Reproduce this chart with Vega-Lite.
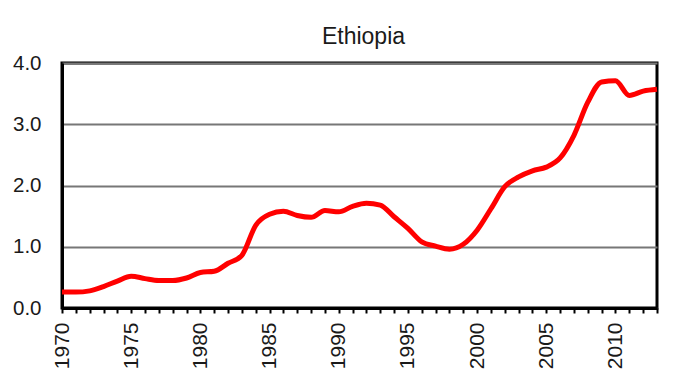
{
  "$schema": "https://vega.github.io/schema/vega-lite/v6.json",
  "autosize": {"type": "none"},
  "width": 595,
  "height": 245,
  "padding": {"left": 62, "top": 63, "right": 27, "bottom": 77},
  "background": "white",
  "title": {"text": "Ethiopia", "font": "Liberation Sans", "fontSize": 23, "fontWeight": "normal", "color": "#1a1a1a", "offset": 4, "anchor": "middle", "dx": 4},
  "config": {
    "view": {"stroke": "#000", "strokeWidth": 3},
    "axis": {"labelFont": "Liberation Sans", "labelColor": "#1a1a1a"}
  },
  "data": {"values": [
    {"year": 1970, "value": 0.26}, {"year": 1971, "value": 0.26}, {"year": 1972, "value": 0.28},
    {"year": 1973, "value": 0.35}, {"year": 1974, "value": 0.44}, {"year": 1975, "value": 0.52},
    {"year": 1976, "value": 0.48}, {"year": 1977, "value": 0.45}, {"year": 1978, "value": 0.45},
    {"year": 1979, "value": 0.49}, {"year": 1980, "value": 0.58}, {"year": 1981, "value": 0.6},
    {"year": 1982, "value": 0.73}, {"year": 1983, "value": 0.86}, {"year": 1984, "value": 1.35},
    {"year": 1985, "value": 1.53}, {"year": 1986, "value": 1.58}, {"year": 1987, "value": 1.51},
    {"year": 1988, "value": 1.48}, {"year": 1989, "value": 1.59}, {"year": 1990, "value": 1.57},
    {"year": 1991, "value": 1.66}, {"year": 1992, "value": 1.71}, {"year": 1993, "value": 1.68},
    {"year": 1994, "value": 1.49}, {"year": 1995, "value": 1.3}, {"year": 1996, "value": 1.08},
    {"year": 1997, "value": 1.01}, {"year": 1998, "value": 0.96}, {"year": 1999, "value": 1.04},
    {"year": 2000, "value": 1.27}, {"year": 2001, "value": 1.62}, {"year": 2002, "value": 1.98},
    {"year": 2003, "value": 2.14}, {"year": 2004, "value": 2.24}, {"year": 2005, "value": 2.3},
    {"year": 2006, "value": 2.45}, {"year": 2007, "value": 2.82}, {"year": 2008, "value": 3.36},
    {"year": 2009, "value": 3.69}, {"year": 2010, "value": 3.71}, {"year": 2011, "value": 3.47},
    {"year": 2012, "value": 3.54}, {"year": 2013, "value": 3.57}
  ]},
  "mark": {"type": "line", "color": "#ff0000", "strokeWidth": 5, "interpolate": "monotone", "clip": false},
  "encoding": {
    "x": {
      "field": "year", "type": "quantitative",
      "scale": {"domain": [1970, 2013], "nice": false, "zero": false},
      "axis": {
        "title": null,
        "values": [1970,1971,1972,1973,1974,1975,1976,1977,1978,1979,1980,1981,1982,1983,1984,1985,1986,1987,1988,1989,1990,1991,1992,1993,1994,1995,1996,1997,1998,1999,2000,2001,2002,2003,2004,2005,2006,2007,2008,2009,2010,2011,2012,2013],
        "format": "d",
        "labelExpr": "datum.value % 5 == 0 ? datum.label : ''",
        "labelOverlap": false,
        "labelAngle": -90,
        "labelFontSize": 21,
        "labelPadding": 9,
        "labelBound": false,
        "grid": false,
        "domain": true,
        "domainColor": "#000",
        "domainWidth": 3,
        "ticks": true,
        "tickColor": "#000",
        "tickWidth": 2,
        "tickSize": 5
      }
    },
    "y": {
      "field": "value", "type": "quantitative",
      "scale": {"domain": [0, 4], "nice": false},
      "axis": {
        "title": null,
        "values": [0, 1, 2, 3, 4],
        "format": ".1f",
        "labelFontSize": 20.5,
        "labelPadding": 21,
        "labelBound": false,
        "labelFlush": false,
        "ticks": false,
        "domain": true,
        "domainColor": "#000",
        "domainWidth": 3,
        "grid": true,
        "gridColor": "#777",
        "gridWidth": 2
      }
    }
  }
}
